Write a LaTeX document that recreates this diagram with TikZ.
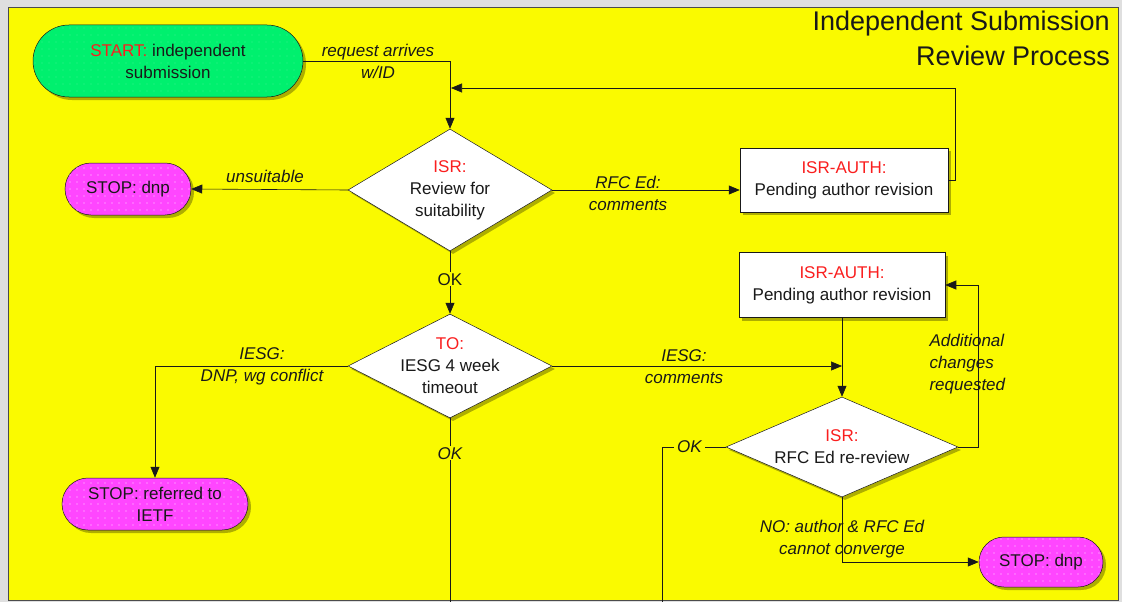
\documentclass[tikz,border=0pt]{standalone}
\usepackage{fontspec}
\setmainfont{Liberation Sans}
\usetikzlibrary{shapes.geometric,shapes.misc,shadows,arrows.meta,patterns.meta,calc}
\definecolor{bgyellow}{RGB}{250,250,0}
\definecolor{startgreen}{RGB}{0,240,110}
\definecolor{stopmagenta}{RGB}{255,70,255}
\definecolor{hotred}{RGB}{250,30,30}
\definecolor{ink}{RGB}{25,25,25}
\newcommand\bodysize{\fontsize{17}{22}\selectfont}
\newcommand\titlesize{\fontsize{27}{35}\selectfont}
\newcommand\tag[1]{\textcolor{hotred}{#1}}
\tikzset{
  x=1pt, y=-1pt,
  shade/.style={drop shadow={shadow xshift=3pt, shadow yshift=-3pt, fill=black, opacity=0.3}},
  terminal/.style={rounded rectangle, draw=ink, line width=0.5pt, shade, inner sep=2pt,
    align=center, font=\bodysize, text=ink},
  startnode/.style={terminal, fill=startgreen,
    postaction={pattern={Dots[distance=7pt, radius=0.4pt]}, pattern color=white!60!startgreen}},
  stopnode/.style={terminal, fill=stopmagenta,
    postaction={pattern={Dots[distance=7pt, radius=0.6pt]}, pattern color=white!80!stopmagenta}},
  statebox/.style={rectangle, draw=ink, line width=0.5pt, fill=white, shade,
    align=center, font=\bodysize, text=ink},
  decision/.style={diamond, draw=ink, line width=0.5pt, fill=white, shade, inner sep=0pt},
  dtext/.style={align=center, font=\bodysize, text=ink},
  flow/.style={draw=ink, line width=0.6pt},
  arr/.style={flow, -{Triangle[length=11pt, width=9pt]}},
  elabel/.style={align=center, font=\bodysize\itshape, text=ink},
}
\begin{document}
\begin{tikzpicture}
  % page and panel
  \useasboundingbox (0,0) rectangle (1122,602);
  \fill[gray!25] (0,0) rectangle (1122,602);
  \fill[bgyellow, draw=black!70, line width=1pt] (8,8) rectangle (1118,600);

  % title
  \node[anchor=north east, align=right, font=\titlesize, text=ink, inner sep=0pt] (title) at (1110,11)
    {Independent Submission\\Review Process};

  % nodes
  \node[startnode, minimum width=274pt, minimum height=72pt] (start) at (168,61)
    {\tag{START:} independent\\submission};
  \node[decision, minimum width=204pt, minimum height=122pt] (d1) at (450,190) {};
  \node[dtext] (d1t) at (450,190) {\tag{ISR:}\\Review for\\suitability};
  \node[stopnode, minimum width=130pt, minimum height=52pt] (stop1) at (128,189) {STOP: dnp};
  \node[statebox, minimum width=208pt, minimum height=64pt] (a1) at (844,180)
    {\tag{ISR-AUTH:}\\Pending author revision};

  \node[decision, minimum width=204pt, minimum height=104pt] (d2) at (450,366) {};
  \node[dtext] (d2t) at (450,366) {\tag{TO:}\\IESG 4 week\\timeout};
  \node[stopnode, minimum width=190pt, minimum height=52pt] (stop2) at (155,504)
    {STOP: referred to\\IETF};

  \node[statebox, minimum width=206pt, minimum height=65pt] (a2) at (842,285)
    {\tag{ISR-AUTH:}\\Pending author revision};
  \node[decision, minimum width=232pt, minimum height=100pt] (d3) at (842,447) {};
  \node[dtext] (d3t) at (842,447) {\tag{ISR:}\\RFC Ed re-review};
  \node[stopnode, minimum width=128pt, minimum height=50pt] (stop3) at (1041,562) {STOP: dnp};

  % free ends of connectors
  \coordinate (fb) at (451,88);
  \coordinate (merge) at (842,366);
  \coordinate (okdown) at (662,602);
  \coordinate (d2down) at (450,602);

  % connectors
  \draw[arr] (start.east) -| (d1.north);
  \node[elabel] (l1) at (378,61) {request arrives\\w/ID};

  \draw[arr] (a1.east) -- ++(7,0) |- (fb);

  \draw[arr] (d1.west) -- (stop1.east);
  \node[elabel] (l2) at (265,176) {unsuitable};

  \draw[arr] (d1.east) -- (a1.west |- d1.east);
  \node[elabel] (l3) at (628,193) {RFC Ed:\\comments};

  \draw[arr] (d1.south) -- node[pos=0.45, fill=bgyellow, font=\bodysize, text=ink, inner sep=1pt] (ok1) {OK} (d2.north);

  \draw[arr] (d2.west) -| (stop2.north);
  \node[elabel] (l4) at (262,366) {IESG:\\DNP, wg conflict};

  \draw[flow] (d2.south) -- node[pos=0.19, fill=bgyellow, font=\bodysize\itshape, text=ink, inner sep=1pt] (ok2) {OK} (d2down);

  \draw[arr] (d2.east) -- (merge);
  \node[elabel] (l5) at (684,367) {IESG:\\comments};

  \draw[arr] (a2.south) -- (d3.north);

  \draw[arr] (d3.east) -- ++(20,0) |- (a2.east);
  \node[elabel, anchor=west, align=left] (l6) at (926,364) {Additional\\changes\\requested};

  \draw[flow] (d3.west) -- node[pos=0.57, fill=bgyellow, font=\bodysize\itshape, text=ink, inner sep=3pt] (ok3) {OK} (662,447) -- (okdown);

  \draw[arr] (d3.south) |- (stop3.west);
  \node[elabel] (l7) at (842,539) {NO: author \& RFC Ed\\cannot converge};
\end{tikzpicture}
\end{document}
